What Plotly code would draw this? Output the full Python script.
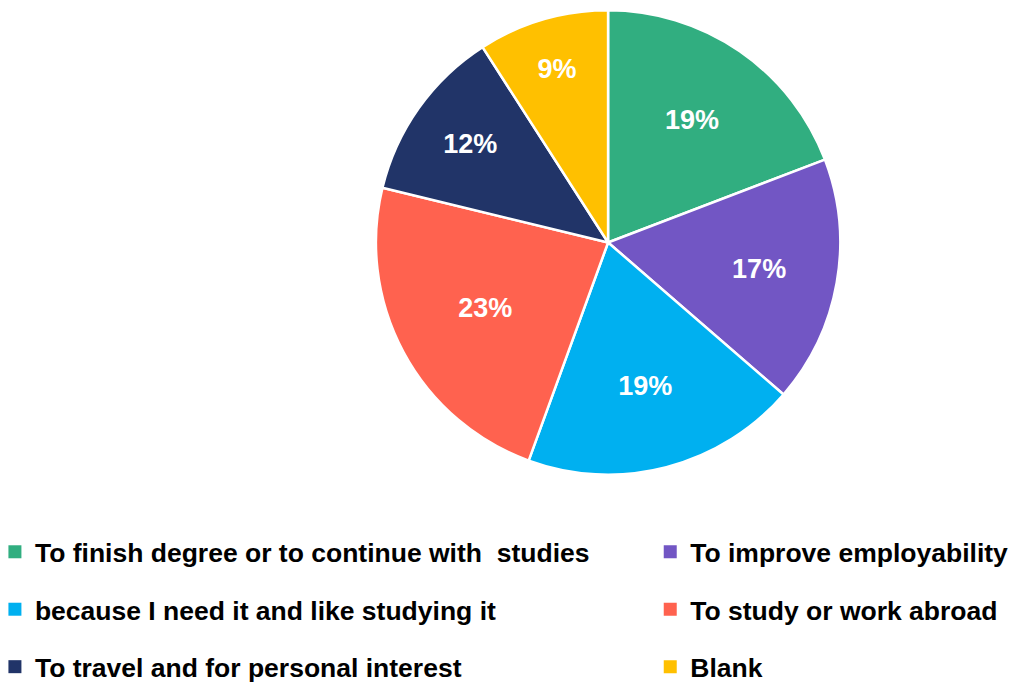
import plotly.graph_objects as go

labels = [
    "To finish degree or to continue with\u00a0 studies",
    "To improve employability",
    "because I need it and like studying it",
    "To study or work abroad",
    "To travel and for personal interest",
    "Blank",
]
values = [19, 17, 19, 23, 12, 9]
colors = ["#31AE80", "#7256C4", "#00B0F0", "#FF624F", "#213468", "#FFC000"]
# legend column for each category (left / right), as laid out in the reference
legend_column = ["legend", "legend2", "legend", "legend2", "legend", "legend2"]

FONT = "Liberation Sans, Arial, sans-serif"

fig = go.Figure()
fig.add_trace(
    go.Pie(
        labels=labels,
        values=values,
        sort=False,
        direction="clockwise",
        rotation=0,
        marker=dict(colors=colors, line=dict(color="white", width=2.5)),
        texttemplate="%{percent:.0%}",
        textposition="inside",
        insidetextorientation="horizontal",
        textfont=dict(family=FONT, size=27, color="white", weight="bold"),
        domain=dict(x=[0.370, 0.827], y=[0.306, 0.985]),
        hoverinfo="label+percent",
        showlegend=False,
    )
)

# legend entries (one per category), split in two columns
for lab, col, lg in zip(labels, colors, legend_column):
    fig.add_trace(
        go.Scatter(
            x=[None],
            y=[None],
            mode="markers",
            name=lab,
            marker=dict(symbol="square", size=13, color=col),
            legend=lg,
            legendgroup=lab,
            showlegend=True,
            hoverinfo="skip",
        )
    )

legend_common = dict(
    orientation="v",
    yanchor="top",
    y=0.228,
    tracegroupgap=20,
    font=dict(family=FONT, size=26.5, color="#000000", weight="bold"),
    bgcolor="rgba(0,0,0,0)",
    itemclick=False,
    itemdoubleclick=False,
)

fig.update_layout(
    width=1016,
    height=684,
    margin=dict(l=0, r=0, t=0, b=0, autoexpand=False),
    paper_bgcolor="white",
    plot_bgcolor="white",
    xaxis=dict(visible=False),
    yaxis=dict(visible=False),
    showlegend=True,
    legend=dict(x=-0.005, xanchor="left", **legend_common),
    legend2=dict(x=0.640, xanchor="left", **legend_common),
)

fig.write_html("out.html")
